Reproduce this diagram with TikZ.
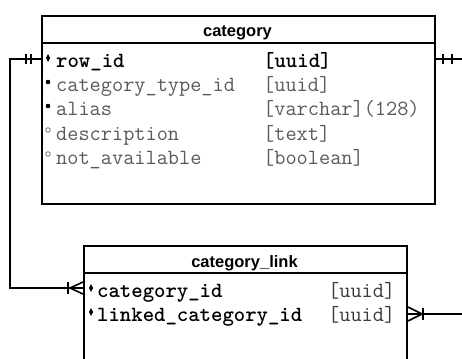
\documentclass[tikz,border=0pt]{standalone}
\usepackage{fontspec}
\setmainfont{Liberation Sans}
\definecolor{txtgray}{HTML}{5A5A5A}
\definecolor{typegray}{HTML}{3A3A3A}
\begin{document}
\begin{tikzpicture}[x=1pt,y=-1pt,
  tbl/.style={draw,line width=2pt,rectangle,inner sep=0,anchor=north west},
  hdr/.style={font=\fontsize{16.5}{18}\selectfont\bfseries,anchor=base,inner sep=0},
  keyf/.style={font=\fontsize{21.7}{22}\selectfont\ttfamily\bfseries,anchor=base west,inner sep=0},
  colf/.style={font=\fontsize{21.7}{22}\selectfont\ttfamily,text=txtgray,anchor=base west,inner sep=0},
  ltype/.style={font=\fontsize{21.7}{22}\selectfont\ttfamily,text=typegray,anchor=base west,inner sep=0},
  conn/.style={line width=2pt},
  erdmark/.style={line width=1.6pt},
  keydot/.style={fill=black,draw=none},
  fulldot/.style={fill=black,draw=none},
  emptydot/.style={draw=txtgray,line width=0.6pt,fill=white}
]
\clip (0,0) rectangle (462,358);
\fill[white] (0,0) rectangle (462,358);

% tables
\node[tbl,minimum width=393pt,minimum height=188pt] (cat) at (41,15) {};
\node[tbl,minimum width=323pt,minimum height=135pt] (lnk) at (83,245) {};
\draw[conn] ([yshift=-28pt]cat.north west) -- ([yshift=-28pt]cat.north east);
\draw[conn] ([yshift=-28pt]lnk.north west) -- ([yshift=-28pt]lnk.north east);

% headers
\node[hdr] (cath) at (237.5,37) {category};
\node[hdr] (lnkh) at (244.5,267) {category\_link};

% category rows
\node[keyf] (r1n) at (56,68) {row\_id};
\node[keyf] (r1t) at (263,68) {[uuid]};
\node[colf] (r2n) at (56,92) {category\_type\_id};
\node[colf] (r2t) at (263,92) {[uuid]};
\node[colf] (r3n) at (56,116) {alias};
\node[colf] (r3t) at (263,116) {[varchar](128)};
\node[colf] (r4n) at (56,140) {description};
\node[colf] (r4t) at (263,140) {[text]};
\node[colf] (r5n) at (56,164) {not\_available};
\node[colf] (r5t) at (263,164) {[boolean]};

% category bullets
\fill[keydot] (48,54) -- (50,58) -- (48,62) -- (46,58) -- cycle;
\fill[fulldot] (48,82) circle (2.3pt);
\fill[fulldot] (48,106) circle (2.3pt);
\draw[emptydot] (48,130) circle (2.3pt);
\draw[emptydot] (48,154) circle (2.3pt);

% link rows
\node[keyf] (l1n) at (97,297) {category\_id};
\node[ltype] (l1t) at (328,297) {[uuid]};
\node[keyf] (l2n) at (97,321) {linked\_category\_id};
\node[ltype] (l2t) at (328,321) {[uuid]};
\fill[keydot] (91,284) -- (93,288) -- (91,292) -- (89,288) -- cycle;
\fill[keydot] (91,308) -- (93,312) -- (91,316) -- (89,312) -- cycle;

% connectors
\coordinate (cw) at ([yshift=-44pt]cat.north west);
\coordinate (ce) at ([yshift=-44pt]cat.north east);
\coordinate (lw) at ([yshift=-43pt]lnk.north west);
\coordinate (le) at ([yshift=-69pt]lnk.north east);
\coordinate (rtop) at (470,59);
\coordinate (rbot) at (470,314);

\draw[conn] (cw) -- ++(-31,0) |- (lw);
\draw[conn] (ce) -- (rtop);
\draw[conn] (le) -- (rbot);

% one-and-only-one marks
\draw[erdmark] ([xshift=-15pt,yshift=5pt]cw) -- ++(0,10);
\draw[erdmark] ([xshift=-10pt,yshift=5pt]cw) -- ++(0,10);
\draw[erdmark] ([xshift=7pt,yshift=5pt]ce) -- ++(0,10);
\draw[erdmark] ([xshift=16pt,yshift=5pt]ce) -- ++(0,10);

% crow's foot at link (left)
\draw[erdmark] ([xshift=-13pt]lw) -- ([yshift=6pt]lw);
\draw[erdmark] ([xshift=-13pt]lw) -- ([yshift=-6pt]lw);
\draw[erdmark] ([xshift=-15pt,yshift=6pt]lw) -- ++(0,12);

% crow's foot at link (right)
\draw[erdmark] ([xshift=14pt]le) -- ([yshift=7pt]le);
\draw[erdmark] ([xshift=14pt]le) -- ([yshift=-7pt]le);
\draw[erdmark] ([xshift=15pt,yshift=6pt]le) -- ++(0,12);
\end{tikzpicture}
\end{document}
